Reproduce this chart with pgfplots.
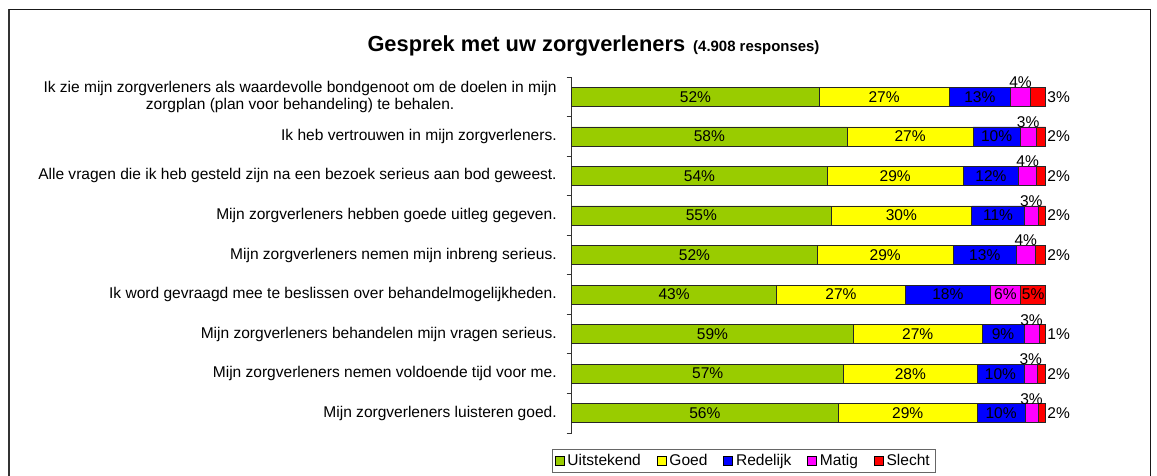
\documentclass[border=0pt]{standalone}
\usepackage{fontspec}
\setmainfont{Liberation Sans}
\usepackage{pgfplots}
\usepackage{pgfplotstable}
\pgfplotsset{compat=1.18}
\definecolor{cg}{HTML}{99CC00}
\definecolor{cy}{HTML}{FFFF00}
\definecolor{cb}{HTML}{0000FF}
\definecolor{cm}{HTML}{FF00FF}
\definecolor{cr}{HTML}{FF0000}
\pgfplotstableread{
y  g     ye    b     m    r    in
1  52.2  27.4  13.0  4.2  3.2  0
2  58.1  26.6  9.9   3.4  2.0  0
3  53.9  28.7  11.7  3.8  1.9  0
4  54.7  29.7  11.1  2.9  1.6  0
5  51.8  28.7  13.3  4.0  2.2  0
6  43.2  27.2  17.9  6.4  5.3  1
7  59.4  27.2  8.8   3.2  1.4  0
8  57.4  28.1  9.9   2.9  1.7  0
9  56.2  29.4  10.0  2.8  1.6  0
}\data
\newcommand{\lblfont}{\fontsize{15.6}{17.5}\selectfont}
\pgfplotsset{
  inlbl/.style={
    nodes near coords={\pgfmathprintnumber[fixed,precision=0,assume math mode=true]{\rawx}\%},
    visualization depends on={\thisrow{#1} \as \rawx},
    every node near coord/.append style={anchor=center, font=\lblfont, text=black}},
  maglbl/.style={
    nodes near coords={\pgfmathprintnumber[fixed,precision=0,assume math mode=true]{\rawx}\%},
    visualization depends on={\thisrow{m} \as \rawx},
    visualization depends on={\thisrow{in} \as \inside},
    every node near coord/.append style={anchor=center, font=\lblfont, text=black,
      yshift={14.5*(1-\inside)}}},
  redlbl/.style={
    nodes near coords={\pgfmathprintnumber[fixed,precision=0,assume math mode=true]{\rawx}\%},
    visualization depends on={\thisrow{r} \as \rawx},
    visualization depends on={\thisrow{in} \as \inside},
    every node near coord/.append style={anchor=center, font=\lblfont, text=black,
      shift={(axis direction cs:\rawx/2-\rawx*\inside/2,0)}, xshift={13*(1-\inside)}}},
}
\begin{document}
\begin{tikzpicture}
\useasboundingbox (0bp,0bp) rectangle (1157bp,-476bp);
\draw[black!80, line width=2bp] (8.5bp,-476bp) -- (8.5bp,-9bp);
\draw[black!90, line width=1bp] (8.5bp,-9bp) -- (1150bp,-9bp) -- (1150bp,-476bp);
\node[anchor=base] at (593.5bp,-51.5bp) {\fontsize{21.9}{25}\selectfont\bfseries Gesprek met uw zorgverleners\hspace{8bp}{\fontsize{15}{17}\selectfont (4.908 responses)}};
\begin{axis}[
  at={(571.7bp,-433bp)}, anchor=south west,
  scale only axis, width=474bp, height=356bp,
  xbar stacked, bar width=19bp,
  xmin=0, xmax=100, ymin=0.5, ymax=9.5, y dir=reverse,
  axis x line=none, axis y line*=left,
  clip=false,
  ytick={1,...,9},
  yticklabels={{Ik zie mijn zorgverleners als waardevolle bondgenoot om de doelen in mijn\\zorgplan (plan voor behandeling) te behalen.},
    {Ik heb vertrouwen in mijn zorgverleners.},
    {Alle vragen die ik heb gesteld zijn na een bezoek serieus aan bod geweest.},
    {Mijn zorgverleners hebben goede uitleg gegeven.},
    {Mijn zorgverleners nemen mijn inbreng serieus.},
    {Ik word gevraagd mee te beslissen over behandelmogelijkheden.},
    {Mijn zorgverleners behandelen mijn vragen serieus.},
    {Mijn zorgverleners nemen voldoende tijd voor me.},
    {Mijn zorgverleners luisteren goed.}},
  minor ytick={0.5,1.5,...,9.5},
  major tick length=0pt, minor tick length=5bp, tick align=outside,
  tick style={black!80, line width=0.8bp},
  y axis line style={black!80, line width=0.8bp},
  yticklabel style={font=\lblfont, align=center, xshift=-11.5bp},
  legend style={at={(axis description cs:0.362,0)}, anchor=north, yshift=-16bp,
    legend columns=-1, draw=black!60, font=\lblfont, inner sep=3bp,
    nodes={inner xsep=2bp},
    /tikz/every even column/.append style={column sep=14bp},
    /tikz/every odd column/.append style={column sep=1bp}},
  legend image code/.code={\draw[#1, draw=black, line width=0.6bp] (0bp,-4.5bp) rectangle (9bp,4.5bp);},
]
\addplot[fill=cg, draw=black!85, line width=0.6bp, inlbl=g] table[x=g,y=y]{\data};
\addplot[fill=cy, draw=black!85, line width=0.6bp, inlbl=ye] table[x=ye,y=y]{\data};
\addplot[fill=cb, draw=black!85, line width=0.6bp, inlbl=b] table[x=b,y=y]{\data};
\addplot[fill=cm, draw=black!85, line width=0.6bp, maglbl] table[x=m,y=y]{\data};
\addplot[fill=cr, draw=black!85, line width=0.6bp, redlbl] table[x=r,y=y]{\data};
\legend{Uitstekend,Goed,Redelijk,Matig,Slecht}
\end{axis}
\end{tikzpicture}
\end{document}
